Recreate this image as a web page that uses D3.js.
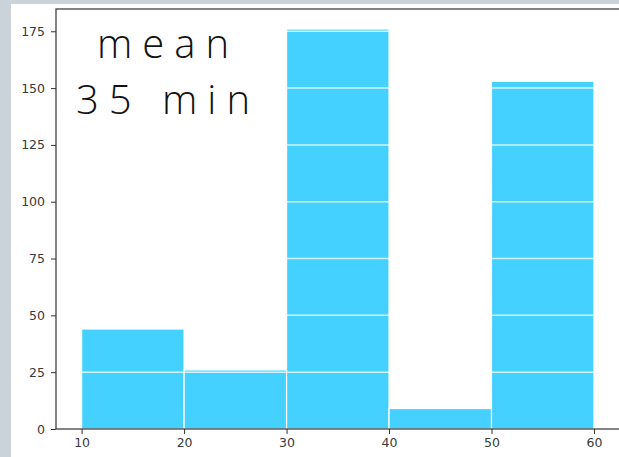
<!DOCTYPE html>
<html>
<head>
<meta charset="utf-8">
<script src="https://cdn.jsdelivr.net/npm/d3@7"></script>
<style>
  html, body { margin: 0; padding: 0; background: #c9d3d9; }
  svg { display: block; }
</style>
</head>
<body>
<script>
// Histogram of durations in 10-minute bins
const binEdges = [10, 20, 30, 40, 50, 60];
const counts = [44, 26, 176, 9, 153];
const xTicks = [10, 20, 30, 40, 50, 60];
const yTicks = [0, 25, 50, 75, 100, 125, 150, 175];
const labelLines = ["mean", "35 min"];

const W = 619, H = 457;
const svg = d3.select("body").append("svg").attr("width", W).attr("height", H);

// white canvas
svg.append("rect").attr("x", 11).attr("y", 4).attr("width", W - 11).attr("height", H - 4).attr("fill", "#ffffff");

const plotL = 56, plotR = 619.6, plotT = 9, plotB = 429;
const x = d3.scaleLinear().domain([7.5, 62.5]).range([plotL, plotR]);
const yMax = d3.max(counts) * 1.05;
const y = d3.scaleLinear().domain([0, yMax]).range([plotB, plotT]);

const bins = counts.map((c, i) => ({ x0: binEdges[i], x1: binEdges[i + 1], c }));

svg.append("g").selectAll("rect").data(bins).join("rect")
  .attr("x", d => x(d.x0))
  .attr("y", d => y(d.c))
  .attr("width", d => x(d.x1) - x(d.x0))
  .attr("height", d => y(0) - y(d.c))
  .attr("fill", "#44d1ff")
  .attr("stroke", "#ffffff")
  .attr("stroke-width", 1.2);

// horizontal grid drawn on top of the bars
svg.append("g").selectAll("line").data(yTicks.filter(t => t > 0)).join("line")
  .attr("x1", plotL).attr("x2", plotR)
  .attr("y1", d => y(d)).attr("y2", d => y(d))
  .attr("stroke", "#ffffff").attr("stroke-opacity", 0.75).attr("stroke-width", 1.5);

// axes
const xAxis = d3.axisBottom(x).tickValues(xTicks).tickSize(5).tickPadding(4);
const yAxis = d3.axisLeft(y).tickValues(yTicks).tickSize(5).tickPadding(6);

const gx = svg.append("g").attr("transform", `translate(0,${plotB})`).call(xAxis);
const gy = svg.append("g").attr("transform", `translate(${plotL},0)`).call(yAxis);
[gx, gy].forEach(g => {
  g.attr("font-size", null).attr("font-family", null);
  g.select(".domain").remove();
  g.selectAll(".tick line").attr("stroke", "#333").attr("stroke-width", 1);
  g.selectAll(".tick text")
    .attr("fill", "#3a3a3a")
    .attr("font-family", "DejaVu Sans")
    .attr("font-size", 12.5);
});

// frame
svg.append("rect").attr("x", plotL).attr("y", plotT).attr("width", plotR - plotL).attr("height", plotB - plotT)
  .attr("fill", "none").attr("stroke", "#333").attr("stroke-width", 1.2);

// annotation
svg.append("g").selectAll("text").data(labelLines).join("text")
  .attr("x", 168)
  .attr("y", (d, i) => 58 + i * 56)
  .attr("text-anchor", "middle")
  .style("font-family", "Open Sans")
  .style("font-weight", 350)
  .style("font-size", "40px")
  .style("letter-spacing", "10px")
  .attr("fill", "#111")
  .text(d => d);
</script>
</body>
</html>
